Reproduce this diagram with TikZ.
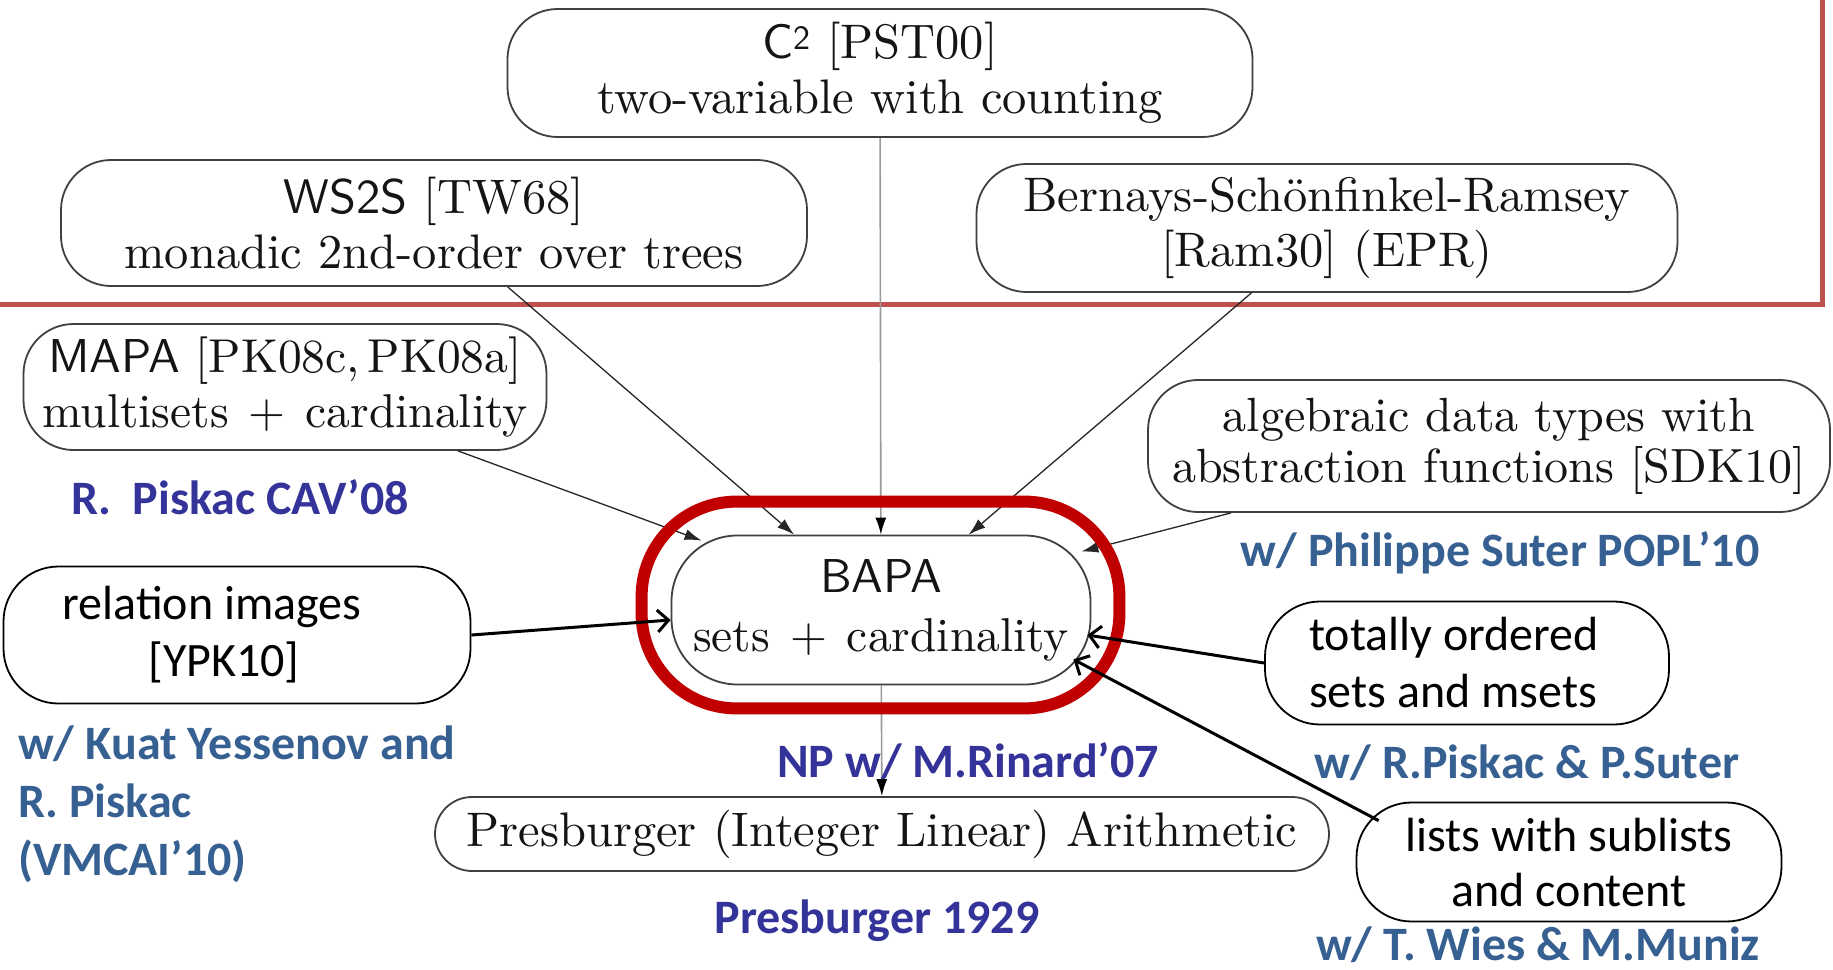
\documentclass[tikz,border=0pt]{standalone}
\usepackage{fontspec}
\setmainfont{lmroman10-regular}[Extension=.otf]
\setsansfont{lmsans10-regular}[Extension=.otf]
\newfontfamily\calfont{Carlito}
\usetikzlibrary{arrows.meta,calc}
\definecolor{framered}{HTML}{C0504D}
\definecolor{bapared}{HTML}{C00000}
\definecolor{dblue}{HTML}{333399}
\definecolor{sblue}{HTML}{376092}
\newcommand{\plusgap}{\hspace{0.42em}+\hspace{0.42em}}
\begin{document}
\begin{tikzpicture}[x=1pt,y=-1pt,
  sbox/.style={draw=black!75, line width=1.8pt, rounded corners=50pt, text=black!92,
    align=center, inner sep=0pt, font=\fontsize{48.5}{55}\selectfont},
  cbox/.style={draw=black, line width=1.8pt, rounded corners=55pt, inner sep=0pt,
    font=\calfont\fontsize{48}{57}\selectfont},
  blue1/.style={text=dblue, font=\calfont\bfseries\fontsize{48}{58}\selectfont, inner sep=0pt},
  blue2/.style={text=sblue, font=\calfont\bfseries\fontsize{48}{58}\selectfont, inner sep=0pt},
  thinarr/.style={line width=1.3pt, draw=black!85, -{Latex[length=17pt,width=11pt]}},
  grayarr/.style={line width=1.6pt, draw=black!40, -{Latex[length=17pt,width=11pt,fill=black,color=black]}},
  thickarr/.style={line width=3pt, draw=black, -{Straight Barb[length=11pt,width=22pt]}}
]
\useasboundingbox (0,0) rectangle (1833,969);
\fill[white] (0,0) rectangle (1833,969);

% red frame
\draw[framered, line width=5pt] (0,304) -- (1822,304) -- (1822,0);

% boxes
\node[sbox, minimum width=745pt, minimum height=128pt] (c2) at (880,73)
  {\textsf{C\textsuperscript{2}} [PST00]\\two-variable with counting};
\node[sbox, minimum width=746pt, minimum height=126pt] (ws2s) at (434,223)
  {\textsf{WS2S} [TW68]\\monadic 2nd-order over trees};
\node[sbox, minimum width=701pt, minimum height=128pt] (bsr) at (1327,228)
  {Bernays-Sch\"onfinkel-Ramsey\\{}[Ram30] (EPR)};
\node[sbox, minimum width=523pt, minimum height=126pt, font=\fontsize{47.5}{55}\selectfont] (mapa) at (285,387)
  {\textsf{MAPA} [PK08c,\,PK08a]\\multisets\plusgap cardinality};
\node[sbox, minimum width=682pt, minimum height=132pt, font=\fontsize{48}{51}\selectfont] (adt) at (1489,446)
  {algebraic data types with\\abstraction functions [SDK10]};
\node[sbox, rounded corners=66pt, minimum width=419pt, minimum height=149pt, font=\fontsize{47.5}{59}\selectfont] (bapa) at (881,610)
  {\textsf{BAPA}\\sets\plusgap cardinality};
\node[sbox, rounded corners=37pt, minimum width=894pt, minimum height=74pt] (pres) at (882,834)
  {Presburger (Integer Linear) Arithmetic};

\node[cbox, minimum width=467pt, minimum height=137pt, align=center] (rel) at (237,635)
  {\hspace*{-50pt}relation images\\\hspace*{-26pt}[YPK10]};
\node[cbox, minimum width=404pt, minimum height=123pt, align=left] (tot) at (1467,663)
  {\raisebox{-6pt}{\hspace*{-26pt}totally ordered}\\\raisebox{-6pt}{\hspace*{-26pt}sets and msets}};
\node[cbox, minimum width=425pt, minimum height=119pt, align=center] (lists) at (1569,862)
  {\raisebox{-6pt}{lists with sublists}\\[-2pt]\raisebox{-6pt}{and content}};

% thin arrows
\draw[thinarr] (ws2s) -- (bapa);
\draw[grayarr] (c2) -- (bapa);
\draw[thinarr] (bsr) -- (bapa);
\draw[thinarr] (mapa) -- ($(bapa.north west)+(31,6)$);
\draw[thinarr] (adt) -- ($(bapa.north east)+(-10,17)$);
\draw[grayarr] (bapa) -- (pres);

% red ring
\draw[bapared, line width=12pt, rounded corners=95pt]
  ($(bapa.north west)+(-29,-33)$) rectangle ($(bapa.south east)+(28,23)$);

% thick arrows
\draw[thickarr] (rel.east) -- ($(bapa.west)+(0,10)$);
\draw[thickarr] (tot.west) -- ($(bapa.east)+(-4,25)$);
\draw[thickarr] ($(lists.north west)+(23,19)$) -- ($(bapa.south east)+(-18,-26)$);

% labels
\node[blue1] (cav) at (240,497) {R.\ \ Piskac CAV’08};
\node[blue2] (popl) at (1500,553) {w/ Philippe Suter POPL’10};
\node[blue2, align=left, anchor=west] (vmcai) at (18,804) {w/ Kuat Yessenov and\\R. Piskac\\(VMCAI’10)};
\node[blue1] (np) at (968,761) {NP w/ M.Rinard’07};
\node[blue2] (ps) at (1527,763) {w/ R.Piskac \& P.Suter};
\node[blue1] (p1929) at (877,921) {Presburger 1929};
\node[blue2] (wies) at (1538,945) {w/ T. Wies \& M.Muniz};
\end{tikzpicture}
\end{document}
